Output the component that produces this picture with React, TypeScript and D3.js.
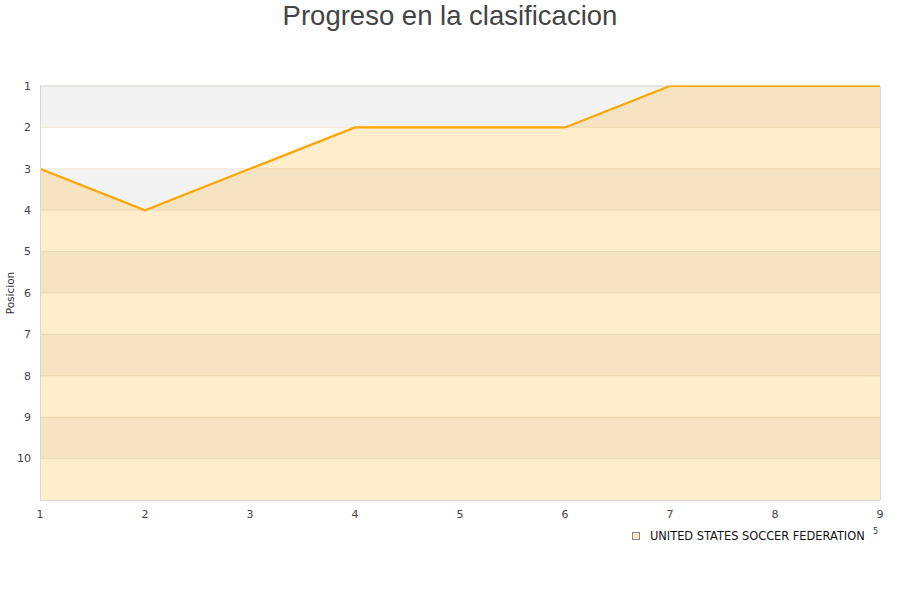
import * as d3 from "d3";

const rounds = [1, 2, 3, 4, 5, 6, 7, 8, 9];
const positions = [3, 4, 3, 2, 2, 2, 1, 1, 1];
const yTicks = [1, 2, 3, 4, 5, 6, 7, 8, 9, 10];
const teamName = "UNITED STATES SOCCER FEDERATION";

const W = 900;
const H = 600;
const margin = { top: 86, right: 20, bottom: 100, left: 40 };
const innerW = W - margin.left - margin.right;
const innerH = H - margin.top - margin.bottom;

export default function App() {
  const x = d3.scaleLinear().domain([1, 9]).range([0, innerW]);
  const y = d3.scaleLinear().domain([1, 11]).range([0, innerH]);

  const pts = rounds.map((r, i) => [r, positions[i]] as [number, number]);
  const line = d3
    .line<[number, number]>()
    .x((d) => x(d[0]))
    .y((d) => y(d[1]));
  const area = d3
    .area<[number, number]>()
    .x((d) => x(d[0]))
    .y0(innerH)
    .y1((d) => y(d[1]));

  const bands = d3.range(1, 11);
  const font = "'DejaVu Sans', Verdana, sans-serif";

  return (
    <svg
      width={W}
      height={H}
      style={{ position: "absolute", left: 0, top: 0, background: "#fff" }}
    >
      <text
        x={W / 2}
        y={25}
        textAnchor="middle"
        fontFamily="'Liberation Sans', Arial, sans-serif"
        fontSize={27.5}
        fill="#444"
      >
        Progreso en la clasificacion
      </text>

      <defs>
        <clipPath id="plot">
          <rect x={0} y={-0.5} width={innerW} height={innerH + 0.5} />
        </clipPath>
      </defs>

      <g transform={`translate(${margin.left},${margin.top})`}>
        {bands.map((b) => (
          <rect
            key={b}
            x={0}
            y={y(b)}
            width={innerW}
            height={y(b + 1) - y(b)}
            fill={b % 2 === 1 ? "#f3f3f3" : "#ffffff"}
          />
        ))}
        <path d={area(pts) ?? ""} fill="orange" fillOpacity={0.2} />
        {yTicks.map((t) => (
          <line
            key={t}
            x1={0}
            x2={innerW}
            y1={y(t)}
            y2={y(t)}
            stroke="#c8a060"
            strokeOpacity={0.22}
            strokeWidth={1}
          />
        ))}
        <line x1={0} x2={innerW} y1={0} y2={0} stroke="#d8d8d8" />
        <g clipPath="url(#plot)">
          <path d={line(pts) ?? ""} fill="none" stroke="orange" strokeWidth={2.2} />
        </g>
        <line x1={0.5} x2={0.5} y1={0} y2={innerH} stroke="#d8d8d8" />
        <line x1={innerW + 0.5} x2={innerW + 0.5} y1={0} y2={innerH} stroke="#d8d8d8" />
        <line x1={0} x2={innerW} y1={innerH + 0.5} y2={innerH + 0.5} stroke="#d8d8d8" />

        {yTicks.map((t) => (
          <text
            key={t}
            x={-9}
            y={y(t)}
            dy="0.35em"
            textAnchor="end"
            fontFamily={font}
            fontSize={11}
            fill="#444"
          >
            {t}
          </text>
        ))}
        {rounds.map((r) => (
          <text
            key={r}
            x={x(r)}
            y={innerH + 18}
            textAnchor="middle"
            fontFamily={font}
            fontSize={11}
            fill="#444"
          >
            {r}
          </text>
        ))}
      </g>

      <text
        transform={`translate(14,${margin.top + innerH / 2}) rotate(-90)`}
        textAnchor="middle"
        fontFamily={font}
        fontSize={10.5}
        fill="#333"
      >
        Posicion
      </text>

      <rect x={632.5} y={532.5} width={7} height={7} fill="#fde9c8" stroke="#888" />
      <text x={650} y={540} fontFamily={font} fontSize={11.4} fill="#111">
        {teamName}
      </text>
      <text x={873} y={534} fontFamily={font} fontSize={8} fill="#333">
        5
      </text>
    </svg>
  );
}
